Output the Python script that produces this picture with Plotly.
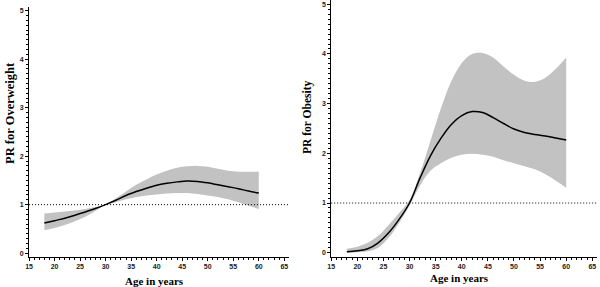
import plotly.graph_objects as go

# ---- data ----
age = [18, 20, 22, 24, 26, 28, 30, 32, 34, 36, 38, 40, 42, 44, 46, 48, 50, 52, 54, 56, 58, 60]

ow_pr = [0.62, 0.67, 0.72, 0.78, 0.85, 0.92, 1.00, 1.09, 1.19, 1.27, 1.34, 1.40, 1.44, 1.47, 1.49, 1.48, 1.45, 1.41, 1.37, 1.33, 1.28, 1.24]
ow_hi = [0.82, 0.84, 0.86, 0.88, 0.91, 0.95, 1.00, 1.13, 1.27, 1.41, 1.52, 1.62, 1.70, 1.76, 1.79, 1.80, 1.78, 1.74, 1.70, 1.68, 1.68, 1.68]
ow_lo = [0.47, 0.52, 0.58, 0.66, 0.75, 0.87, 1.00, 1.05, 1.11, 1.16, 1.19, 1.21, 1.23, 1.24, 1.24, 1.22, 1.19, 1.16, 1.11, 1.05, 0.98, 0.91]

ob_pr = [0.02, 0.04, 0.08, 0.20, 0.40, 0.67, 1.00, 1.50, 1.95, 2.30, 2.58, 2.76, 2.84, 2.82, 2.72, 2.60, 2.49, 2.42, 2.38, 2.35, 2.31, 2.27]
ob_hi = [0.08, 0.12, 0.20, 0.34, 0.56, 0.80, 1.06, 1.60, 2.25, 2.90, 3.45, 3.82, 4.00, 4.02, 3.93, 3.75, 3.58, 3.46, 3.44, 3.52, 3.70, 3.93]
ob_lo = [0.00, 0.01, 0.03, 0.10, 0.30, 0.60, 0.95, 1.35, 1.65, 1.80, 1.91, 1.97, 1.99, 1.97, 1.93, 1.86, 1.80, 1.74, 1.68, 1.58, 1.45, 1.31]

x_ticks = [15, 20, 25, 30, 35, 40, 45, 50, 55, 60, 65]
y_ticks = [0, 1, 2, 3, 4, 5]
ref_value = 1

band_color = "#c2c2c2"

fig = go.Figure()

def add_panel(xa, ya, pr, hi, lo):
    fig.add_trace(go.Scatter(x=age, y=hi, mode="lines", line=dict(width=0, shape="spline"),
                             xaxis=xa, yaxis=ya, showlegend=False, hoverinfo="skip"))
    fig.add_trace(go.Scatter(x=age, y=lo, mode="lines", line=dict(width=0, shape="spline"),
                             fill="tonexty", fillcolor=band_color,
                             xaxis=xa, yaxis=ya, showlegend=False, hoverinfo="skip"))
    fig.add_trace(go.Scatter(x=age, y=pr, mode="lines", line=dict(color="black", width=1.5, shape="spline"),
                             xaxis=xa, yaxis=ya, showlegend=False))

add_panel("x", "y", ow_pr, ow_hi, ow_lo)
add_panel("x2", "y2", ob_pr, ob_hi, ob_lo)

tickfont = dict(family="Liberation Sans", size=7, color="#222", weight="bold")

def xaxis(domain, anchor):
    return dict(domain=domain, anchor=anchor, range=[15, 65.9], tickvals=x_ticks,
                showgrid=False, zeroline=False, showline=True, linecolor="black", linewidth=1,
                ticks="outside", ticklen=3, tickcolor="black", tickfont=tickfont,
                minor=dict(dtick=1, tick0=15, ticks="outside", ticklen=2, tickcolor="black"))

def yaxis(domain, anchor):
    return dict(domain=domain, anchor=anchor, range=[-0.08, 5.08], tickvals=y_ticks,
                showgrid=False, zeroline=False, showline=True, linecolor="black", linewidth=1,
                ticks="outside", ticklen=3, tickcolor="black", tickfont=tickfont,
                minor=dict(dtick=0.1, tick0=0, ticks="outside", ticklen=2, tickcolor="black"))

fig.update_layout(
    width=600, height=287,
    margin=dict(l=0, r=0, t=0, b=0),
    paper_bgcolor="white", plot_bgcolor="white",
    xaxis=xaxis([0.042, 0.478], "y"),
    yaxis=yaxis([0.1045, 0.976], "x"),
    xaxis2=xaxis([0.549, 0.995], "y2"),
    yaxis2=yaxis([0.1056, 0.999], "x2"),
)

for xr, yr in (("x", "y"), ("x2", "y2")):
    fig.add_shape(type="line", xref=f"{xr} domain", yref=yr, x0=0, x1=1, y0=ref_value, y1=ref_value,
                  line=dict(color="black", width=1, dash="1px,2px"))

title_font = dict(family="Liberation Serif", color="black", weight="bold")

def px_ann(text, px, py, size, angle=0):
    fig.add_annotation(text=text, x=px / 600, y=1 - py / 287, xref="paper", yref="paper",
                       xanchor="center", yanchor="middle", textangle=angle,
                       showarrow=False, font=dict(size=size, **title_font))

px_ann("PR for Overweight", 6, 113, 12.5, -90)
px_ann("PR for Obesity", 305, 117, 11.5, -90)
px_ann("Age in years", 152, 281, 11)
px_ann("Age in years", 459, 278, 11)

fig.write_html("out.html", config={"displayModeBar": False},
               post_script="document.body.style.margin='0px';document.body.style.overflow='hidden';")
